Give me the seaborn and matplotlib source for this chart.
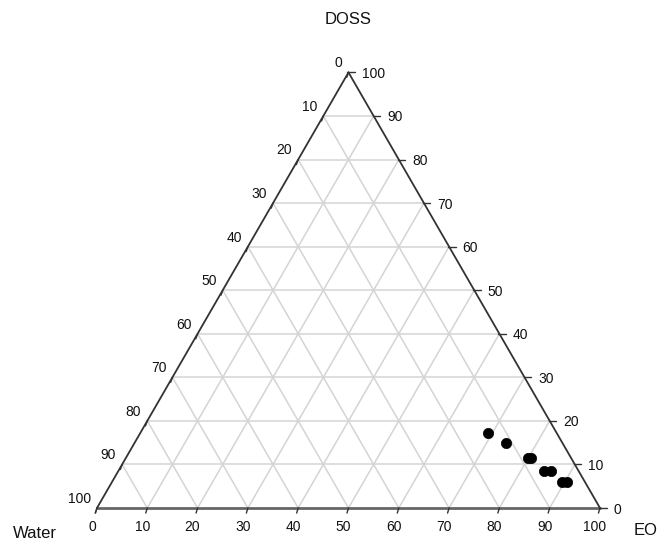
import numpy as np
import pandas as pd
import matplotlib
matplotlib.use("Agg")
import matplotlib.pyplot as plt
import seaborn as sns

## Data (percent)
eo = [69.0, 73.9, 79.9, 80.5, 84.6, 86.0, 89.5, 90.5]
doss = [17.3, 14.9, 11.4, 11.4, 8.5, 8.5, 6.0, 6.0]
water = [100 - e - d for e, d in zip(eo, doss)]
tick_values = list(range(0, 101, 10))

H = np.sqrt(3) / 2

def to_xy(e, d):
    # EO along the bottom (Water -> EO), DOSS towards the top vertex
    return np.asarray(e) + np.asarray(d) / 2, np.asarray(d) * H

df = pd.DataFrame({"EO": eo, "DOSS": doss, "Water": water})
df["x"], df["y"] = to_xy(df["EO"], df["DOSS"])

sns.set_style("white")
plt.rcParams["font.family"] = ["Liberation Sans", "DejaVu Sans"]

fig = plt.figure(figsize=(6.62, 5.5), dpi=100)
ax = fig.add_axes([0, 0, 1, 1])
ax.set_xlim(-19.28, 112.33)
ax.set_ylim(-8.35, 101.0)
ax.axis("off")

## Grid
grid_col = "#d4d4d4"
for v in tick_values[1:-1]:
    # DOSS constant (horizontal)
    x0, y0 = to_xy(0, v)
    x1, y1 = to_xy(100 - v, v)
    ax.plot([x0, x1], [y0, y1], color=grid_col, lw=1.1, zorder=1)
    # EO constant
    x0, y0 = to_xy(v, 0)
    x1, y1 = to_xy(v, 100 - v)
    ax.plot([x0, x1], [y0, y1], color=grid_col, lw=1.1, zorder=1)
    # Water constant
    x0, y0 = to_xy(100 - v, 0)
    x1, y1 = to_xy(0, 100 - v)
    ax.plot([x0, x1], [y0, y1], color=grid_col, lw=1.1, zorder=1)

## Triangle edges
ax.plot([0, 100], [0, 0], color="#666666", lw=2.0, zorder=2)
ax.plot([0, 50], [0, 100 * H], color="#333333", lw=1.3, zorder=2)
ax.plot([100, 50], [0, 100 * H], color="#333333", lw=1.3, zorder=2)

## Ticks and tick labels
tcol = "#111111"
for v in tick_values:
    # bottom: EO
    ax.plot([v, v - 0.3], [0, -1.0], color="#333333", lw=1.0)
    ax.text(v - 1.0, -3.8, str(v), ha="center", va="center", fontsize=10, color=tcol)
    # left: Water
    lx, ly = to_xy(0, 100 - v)
    ax.plot([lx, lx - 0.35], [ly, ly - 1.0], color="#333333", lw=1.0)
    ax.text(lx - 1.2, ly + 1.8, str(v), ha="right", va="center", fontsize=10, color=tcol)
    # right: DOSS
    rx, ry = to_xy(100 - v, v)
    ax.plot([rx - 0.2, rx + 1.3], [ry, ry], color="#333333", lw=1.0)
    ax.text(rx + 2.7, ry - 0.3, str(v), ha="left", va="center", fontsize=10, color=tcol)

## Points
sns.scatterplot(data=df, x="x", y="y", color="black", s=55, edgecolor="black",
                linewidth=0.5, ax=ax, zorder=5, legend=False)

## Axis titles
ax.text(49.9, 97.2, "DOSS", ha="center", va="center", fontsize=12, color="#111111")
ax.text(-12.3, -5.0, "Water", ha="center", va="center", fontsize=12, color="#111111")
ax.text(109.1, -4.4, "EO", ha="center", va="center", fontsize=12, color="#111111")

fig.savefig("out.png", dpi=100)
